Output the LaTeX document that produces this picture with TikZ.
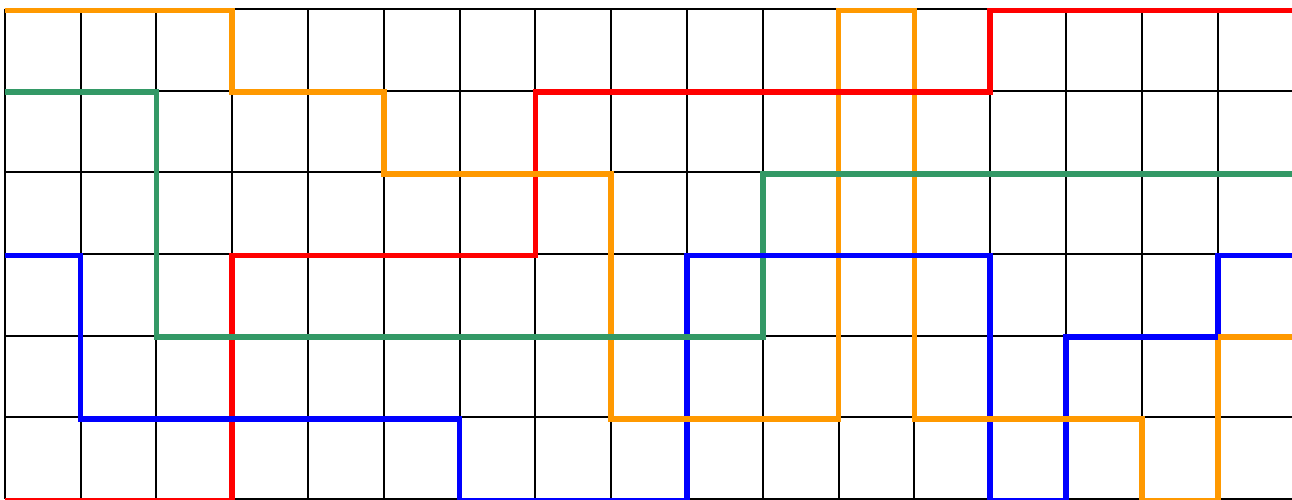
\documentclass[tikz,border=0pt]{standalone}
\definecolor{cOrange}{RGB}{255,153,0}
\definecolor{cGreen}{RGB}{51,153,102}
\definecolor{cRed}{RGB}{255,0,0}
\definecolor{cBlue}{RGB}{0,0,255}
\tikzset{
  gridline/.style={black, line width=1.15pt},
  route/.style={line width=3.2pt, miter limit=10},
}
\begin{document}
\begin{tikzpicture}[x=1.512cm, y=-1.628cm]
% canvas: 1292x498 px, 1px = 0.02cm; grid origin at (4.7px, 9.1px)
\coordinate (tl) at (-0.0622,-0.1118);
\coordinate (br) at (16.9803,6.0061);
\useasboundingbox (tl) rectangle (br);
\clip (tl) rectangle (br);
\fill[white] (tl) rectangle (br);
% grid
\foreach \i in {0,...,17} \draw[gridline] (\i,0) -- (\i,6);
\foreach \j in {0,...,6} \draw[gridline] (0,\j) -- (17,\j);
\begin{scope}[yshift=-0.03cm]
% full routes
\draw[route, cOrange] (0,0)--(3,0)--(3,1)--(5,1)--(5,2)--(8,2)--(8,5)--(11,5)--(11,0)--(12,0)--(12,5)--(15,5)--(15,6)--(16,6)--(16,4)--(17,4);
\draw[route, cGreen] (0,1)--(2,1)--(2,4)--(10,4)--(10,2)--(17,2);
\draw[route, cRed] (0,6)--(3,6)--(3,3)--(7,3)--(7,1)--(13,1)--(13,0)--(17,0);
\draw[route, cBlue] (0,3)--(1,3)--(1,5)--(6,5)--(6,6)--(9,6)--(9,3)--(13,3)--(13,6)--(14,6)--(14,4)--(16,4)--(16,3)--(17,3);
% horizontal segments on top
\draw[route, cOrange] (0,0)--(3,0) (3,1)--(5,1) (5,2)--(8,2) (8,5)--(11,5) (11,0)--(12,0) (12,5)--(15,5) (15,6)--(16,6) (16,4)--(17,4);
\draw[route, cGreen] (0,1)--(2,1) (2,4)--(10,4) (10,2)--(17,2);
\draw[route, cRed] (0,6)--(3,6) (3,3)--(7,3) (7,1)--(13,1) (13,0)--(17,0);
\draw[route, cBlue] (0,3)--(1,3) (1,5)--(6,5) (6,6)--(9,6) (9,3)--(13,3) (13,6)--(14,6) (14,4)--(16,4) (16,3)--(17,3);
\end{scope}
\end{tikzpicture}
\end{document}
